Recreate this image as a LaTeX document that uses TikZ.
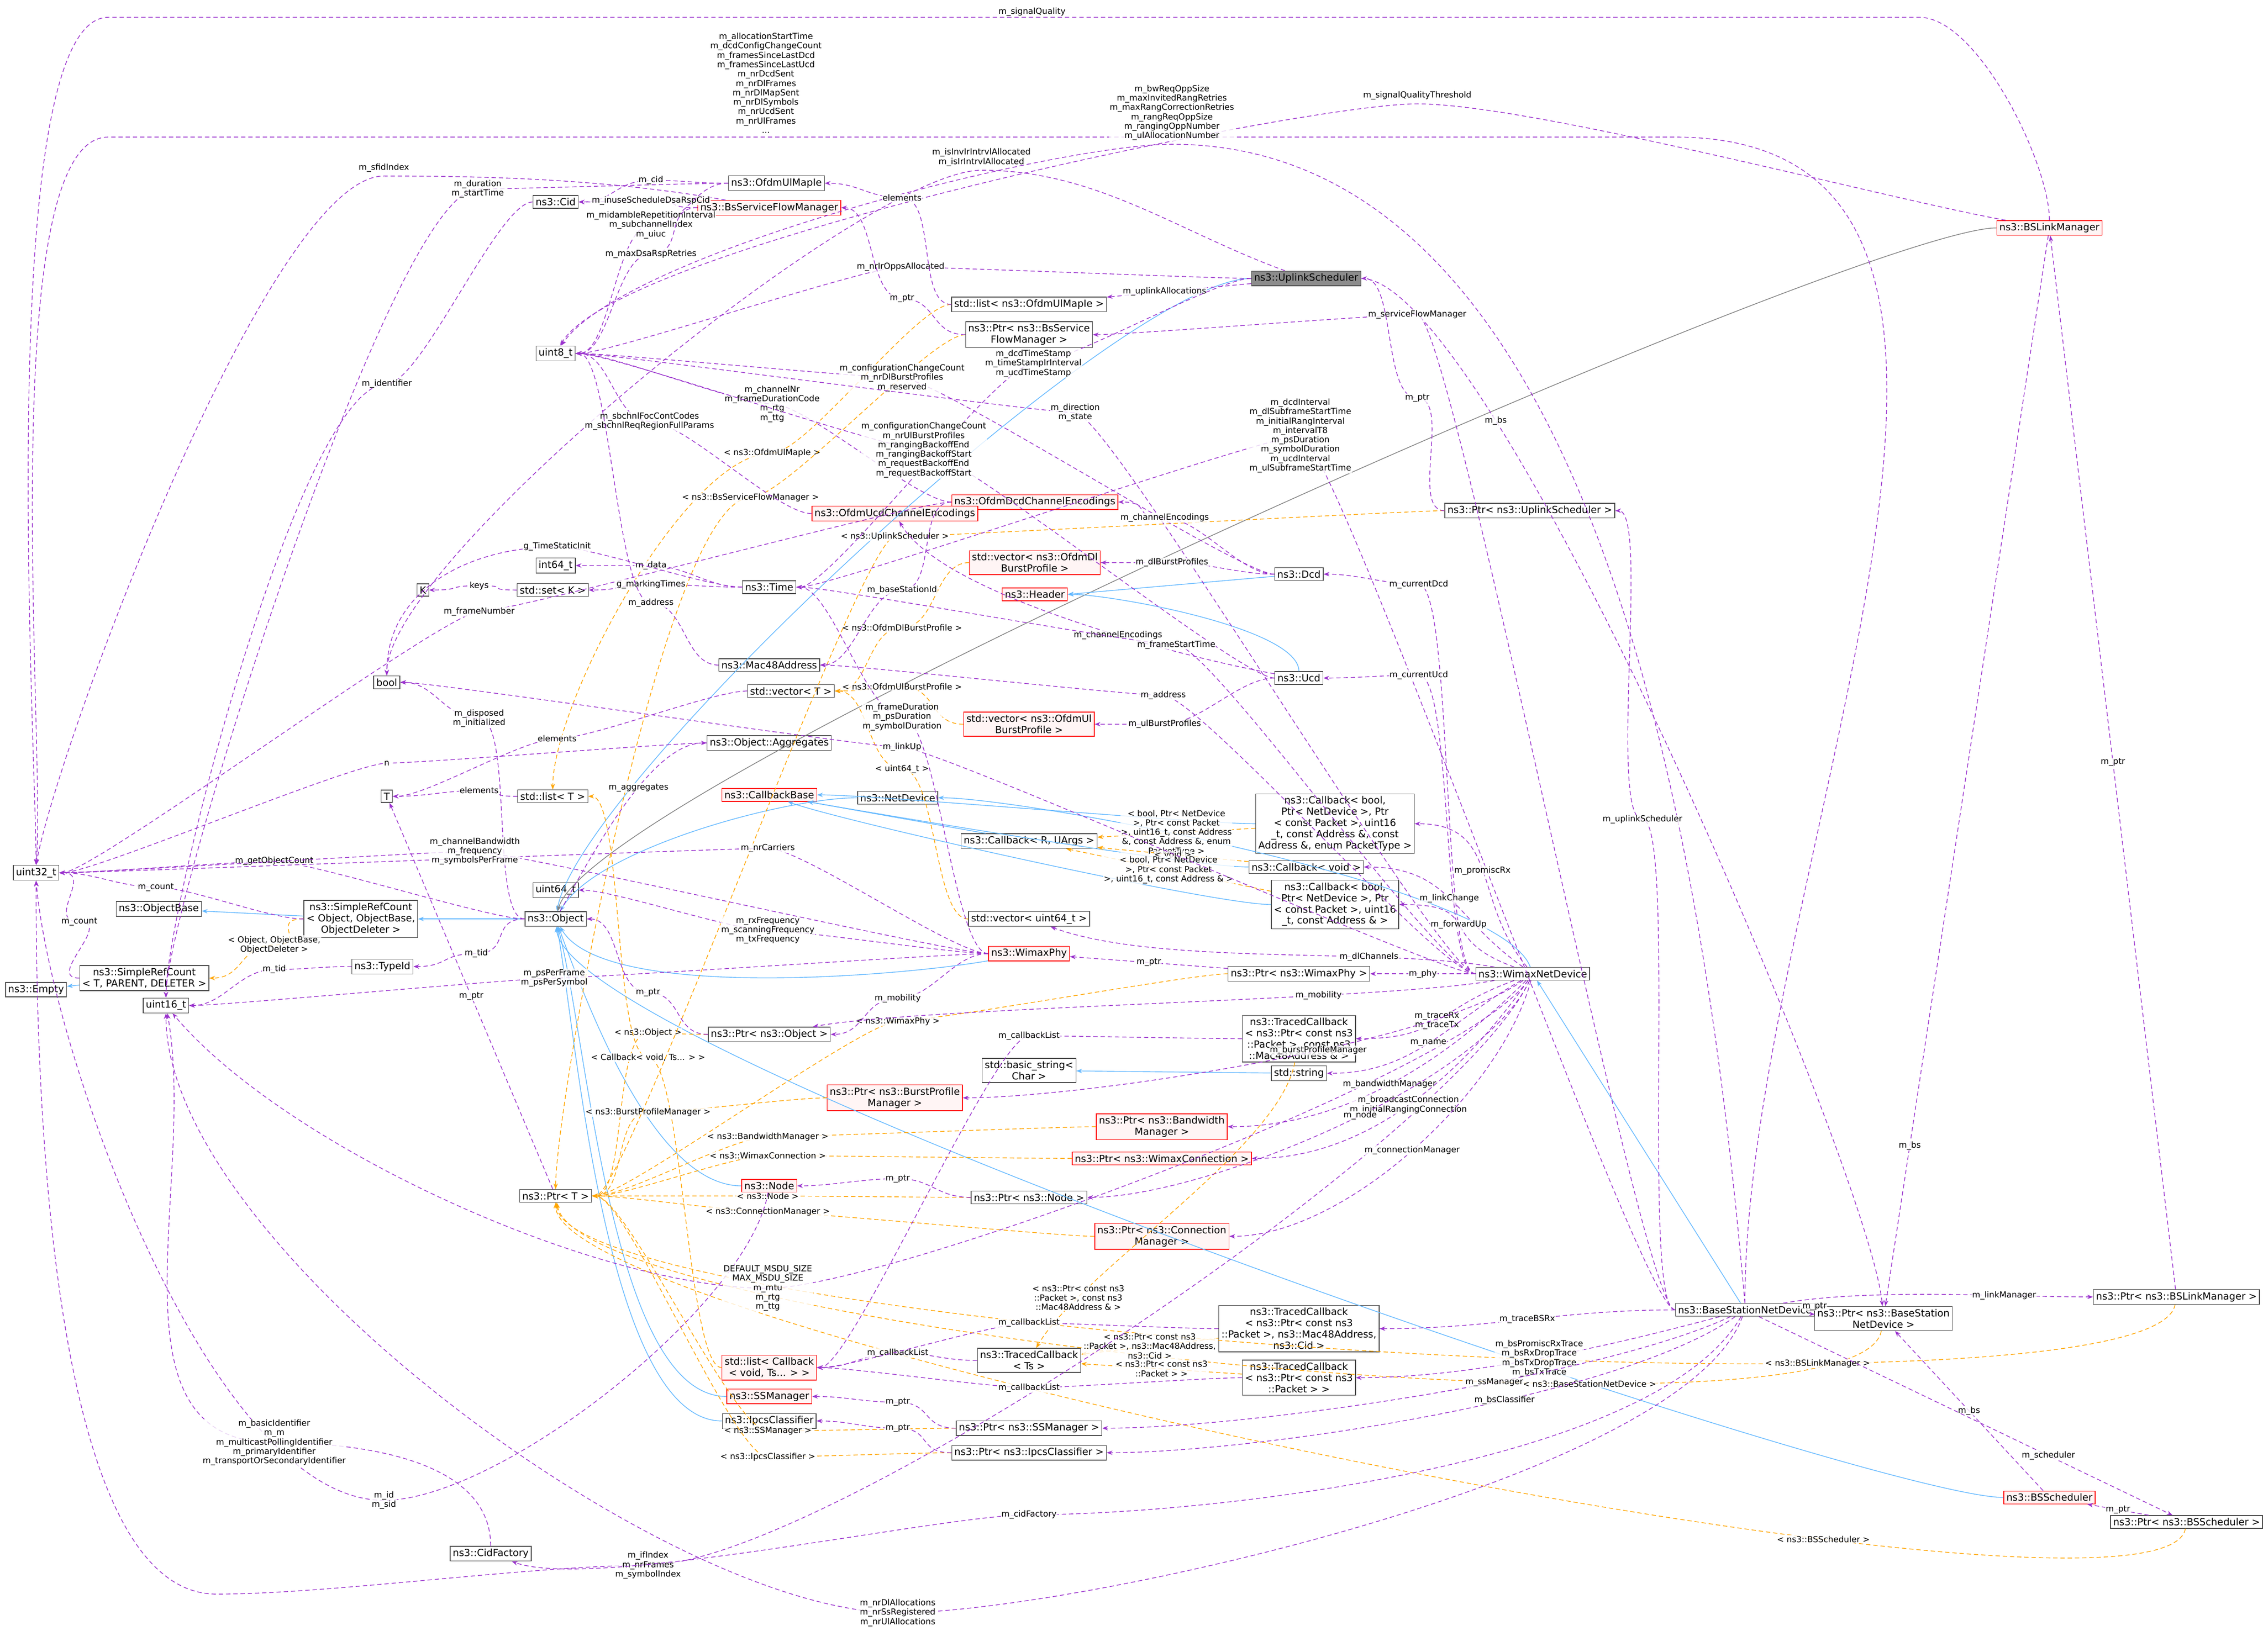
\documentclass[tikz,border=0pt]{standalone}
\usepackage{fontspec}
\setmainfont{DejaVu Sans}
\usetikzlibrary{arrows.meta}
\definecolor{memc}{RGB}{154,50,205}
\definecolor{tmplc}{RGB}{255,165,0}
\definecolor{inhc}{RGB}{99,184,255}
\tikzset{
  cls/.style={draw=black!70, fill=white, font=\fontsize{3.4}{3.9}\selectfont, inner sep=0.9pt, align=center, line width=0.25pt},
  redcls/.style={cls, draw=red, fill=red!4},
  graycls/.style={cls, fill=black!45},
  mem/.style={-{Stealth[length=2pt]}, dash pattern=on 1.5pt off 1pt, memc, line width=0.25pt},
  tmpl/.style={-{Stealth[length=2pt]}, dash pattern=on 1.5pt off 1pt, tmplc, line width=0.25pt},
  inh/.style={-{Stealth[length=2pt]}, inhc, line width=0.25pt},
  far/.style={distance=#1},
  far/.default=45pt,
  lbl/.style={font=\fontsize{2.9}{3.25}\selectfont, text=black, align=center, inner sep=0.25pt, fill=white, fill opacity=0.8, text opacity=1},
}
% connector through its label point: style, from, label point, label, to
\newcommand{\via}[5]{\draw[#1] (#2) to[out=180, in=0, far=12pt] (#3) node[lbl]{#4} to[out=180, in=0, far=12pt] (#5);}
\newcommand{\viad}[5]{\draw[#1] (#2) to[out=180, in=0, far=12pt] (#3) node[lbl]{#4} to[out=180, in=90, far=30pt] (#5);}
\begin{document}
\begin{tikzpicture}[x=0.5pt, y=-0.5pt]
  \useasboundingbox (0,0) rectangle (1568,1145);

  % classes
  \node[graycls] (uplinkSched) at (905,193) {ns3::UplinkScheduler};
  \node[redcls] (bsLinkMgr) at (1420,158) {ns3::BSLinkManager};
  \node[cls] (ofdmUlMapIe) at (538,127) {ns3::OfdmUlMapIe};
  \node[cls] (cid) at (385,140) {ns3::Cid};
  \node[redcls] (bsSfMgr) at (533,144) {ns3::BsServiceFlowManager};
  \node[cls] (uint8) at (385,245) {uint8\_t};
  \node[cls] (listUlMapIe) at (713,211) {std::list< ns3::OfdmUlMapIe >};
  \node[cls] (ptrBsSfMgr) at (713,232) {ns3::Ptr< ns3::BsService\\FlowManager >};
  \node[cls] (ptrUlSched) at (1060,354) {ns3::Ptr< ns3::UplinkScheduler >};
  \node[redcls] (dcdEnc) at (717,348) {ns3::OfdmDcdChannelEncodings};
  \node[redcls] (ucdEnc) at (620,356) {ns3::OfdmUcdChannelEncodings};
  \node[redcls] (vecDlBurst) at (717,390) {std::vector< ns3::OfdmDl\\BurstProfile >};
  \node[redcls] (header) at (717,412) {ns3::Header};
  \node[cls] (int64) at (385,392) {int64\_t};
  \node[cls] (kType) at (293,409) {K};
  \node[cls] (setK) at (383,409) {std::set< K >};
  \node[cls] (time) at (533,407) {ns3::Time};
  \node[cls] (dcd) at (900,398) {ns3::Dcd};
  \node[cls] (ucd) at (900,470) {ns3::Ucd};
  \node[cls] (mac48) at (533,461) {ns3::Mac48Address};
  \node[cls] (boolT) at (268,473) {bool};
  \node[cls] (vecT) at (548,479) {std::vector< T >};
  \node[redcls] (vecUlBurst) at (713,502) {std::vector< ns3::OfdmUl\\BurstProfile >};
  \node[cls] (aggregates) at (533,515) {ns3::Object::Aggregates};
  \node[redcls] (cbBase) at (533,551) {ns3::CallbackBase};
  \node[cls] (netDevice) at (622,553) {ns3::NetDevice};
  \node[cls] (tType) at (268,552) {T};
  \node[cls] (listT) at (383,552) {std::list< T >};
  \node[cls] (cbPromisc) at (925,571) {ns3::Callback< bool,\\Ptr< NetDevice >, Ptr\\< const Packet >, uint16\\\_t, const Address \&, const\\Address \&, enum PacketType >};
  \node[cls] (cbRU) at (713,583) {ns3::Callback< R, UArgs >};
  \node[cls] (cbVoid) at (905,601) {ns3::Callback< void >};
  \node[cls] (cbFwd) at (925,627) {ns3::Callback< bool,\\Ptr< NetDevice >, Ptr\\< const Packet >, uint16\\\_t, const Address \& >};
  \node[cls] (uint32) at (25,605) {uint32\_t};
  \node[cls] (uint64) at (385,617) {uint64\_t};
  \node[cls] (objBase) at (110,630) {ns3::ObjectBase};
  \node[cls] (srcObj) at (250,637) {ns3::SimpleRefCount\\< Object, ObjectBase,\\ObjectDeleter >};
  \node[cls] (object) at (385,637) {ns3::Object};
  \node[cls] (vecU64) at (713,637) {std::vector< uint64\_t >};
  \node[cls] (empty) at (25,686) {ns3::Empty};
  \node[cls] (srcT) at (100,678) {ns3::SimpleRefCount\\< T, PARENT, DELETER >};
  \node[cls] (typeId) at (265,670) {ns3::TypeId};
  \node[redcls] (wimaxPhy) at (713,661) {ns3::WimaxPhy};
  \node[cls] (ptrPhy) at (900,675) {ns3::Ptr< ns3::WimaxPhy >};
  \node[cls] (wimaxDev) at (1062,675) {ns3::WimaxNetDevice};
  \node[cls] (uint16) at (115,697) {uint16\_t};
  \node[cls] (ptrObj) at (533,717) {ns3::Ptr< ns3::Object >};
  \node[cls] (tcbMac) at (900,720) {ns3::TracedCallback\\< ns3::Ptr< const ns3\\::Packet >, const ns3\\::Mac48Address \& >};
  \node[cls] (basicStr) at (713,742) {std::basic\_string<\\Char >};
  \node[cls] (stdStr) at (900,744) {std::string};
  \node[redcls] (ptrBurst) at (620,761) {ns3::Ptr< ns3::BurstProfile\\Manager >};
  \node[redcls] (ptrBw) at (805,781) {ns3::Ptr< ns3::Bandwidth\\Manager >};
  \node[redcls] (ptrConn) at (805,803) {ns3::Ptr< ns3::WimaxConnection >};
  \node[redcls] (node) at (533,822) {ns3::Node};
  \node[cls] (ptrT) at (385,829) {ns3::Ptr< T >};
  \node[cls] (ptrNode) at (713,830) {ns3::Ptr< ns3::Node >};
  \node[redcls] (ptrConnMgr) at (805,857) {ns3::Ptr< ns3::Connection\\Manager >};
  \node[cls] (tcbCid) at (900,921) {ns3::TracedCallback\\< ns3::Ptr< const ns3\\::Packet >, ns3::Mac48Address,\\ns3::Cid >};
  \node[cls] (bsDev) at (1209,908) {ns3::BaseStationNetDevice};
  \node[cls] (ptrBsDev) at (1305,914) {ns3::Ptr< ns3::BaseStation\\NetDevice >};
  \node[cls] (ptrLinkMgr) at (1508,899) {ns3::Ptr< ns3::BSLinkManager >};
  \node[redcls] (listCb) at (533,948) {std::list< Callback\\< void, Ts... > >};
  \node[cls] (tcbTs) at (713,943) {ns3::TracedCallback\\< Ts >};
  \node[cls] (tcbPkt) at (900,955) {ns3::TracedCallback\\< ns3::Ptr< const ns3\\::Packet > >};
  \node[redcls] (ssMgr) at (533,968) {ns3::SSManager};
  \node[cls] (ipcs) at (533,985) {ns3::IpcsClassifier};
  \node[cls] (ptrSs) at (713,990) {ns3::Ptr< ns3::SSManager >};
  \node[cls] (ptrIpcs) at (713,1007) {ns3::Ptr< ns3::IpcsClassifier >};
  \node[redcls] (bsSched) at (1420,1038) {ns3::BSScheduler};
  \node[cls] (ptrBsSched) at (1515,1055) {ns3::Ptr< ns3::BSScheduler >};
  \node[cls] (cidFactory) at (340,1077) {ns3::CidFactory};

  % bend points of the long connectors
  \coordinate (sq1) at (1330,12);
  \coordinate (sq2) at (75,12);
  \coordinate (ast1) at (1160,95);
  \coordinate (ast2) at (75,95);
  \coordinate (irv) at (680,118);
  \coordinate (sqt) at (982,72);
  \coordinate (bwr) at (812,100);
  \coordinate (sfi) at (266,122);
  \coordinate (ifx1) at (449,1085);
  \coordinate (ifx2) at (150,1105);
  \coordinate (msid) at (266,1040);
  \coordinate (msdu) at (532,893);
  \coordinate (nrdl) at (622,1118);
  \coordinate (cidf) at (713,1050);

  % inheritance
  \path (srcObj) edge[inh] (objBase);
  \path (object) edge[inh] (srcObj);
  \path (srcT) edge[inh] (empty);
  \path (uplinkSched.west) edge[inh, out=180, in=80, far] (object);
  \path (bsLinkMgr.west) edge[inh, black!50, out=180, in=75, far] (object);
  \path (netDevice) edge[inh, out=180, in=60, far=25pt] (object);
  \path (wimaxPhy) edge[inh, out=190, in=-60, far=30pt] (object);
  \path (node) edge[inh, out=180, in=-70, far=30pt] (object);
  \path (ssMgr) edge[inh, out=180, in=-75, far=40pt] (object);
  \path (ipcs) edge[inh, out=180, in=-80, far=40pt] (object);
  \path (bsSched.west) edge[inh, out=180, in=-85, far] (object);
  \path (wimaxDev) edge[inh, out=110, in=0, far=30pt] (netDevice);
  \path (bsDev) edge[inh] (wimaxDev);
  \path (dcd) edge[inh] (header.east);
  \path (ucd) edge[inh, out=90, in=0, far=15pt] (header.east);
  \path (stdStr) edge[inh] (basicStr);
  \path (cbRU) edge[inh] (cbBase);
  \path (cbPromisc) edge[inh, out=180, in=0, far=20pt] (cbBase);
  \path (cbVoid) edge[inh, out=180, in=-10, far=20pt] (cbBase);
  \path (cbFwd) edge[inh, out=180, in=-20, far=20pt] (cbBase);

  % template instances
  \via{tmpl}{srcObj}{190,655}{< Object, ObjectBase,\\ObjectDeleter >}{srcT}
  \viad{tmpl}{listUlMapIe}{535,314}{< ns3::OfdmUlMapIe >}{listT}
  \viad{tmpl}{ptrBsSfMgr}{520,345}{< ns3::BsServiceFlowManager >}{ptrT}
  \via{tmpl}{vecDlBurst}{625,435}{< ns3::OfdmDlBurstProfile >}{vecT}
  \via{tmpl}{vecUlBurst}{625,476}{< ns3::OfdmUlBurstProfile >}{vecT}
  \via{tmpl}{vecU64}{625,533}{< uint64\_t >}{vecT}
  \path (cbPromisc) edge[tmpl] node[lbl]{< bool, Ptr< NetDevice\\>, Ptr< const Packet\\>, uint16\_t, const Address\\\&, const Address \&, enum\\PacketType >} (cbRU);
  \path (cbVoid) edge[tmpl] node[lbl]{< void >} (cbRU);
  \path (cbFwd) edge[tmpl] node[lbl]{< bool, Ptr< NetDevice\\>, Ptr< const Packet\\>, uint16\_t, const Address \& >} (cbRU);
  \via{tmpl}{ptrObj}{449,716}{< ns3::Object >}{ptrT}
  \via{tmpl}{ptrPhy}{622,708}{< ns3::WimaxPhy >}{ptrT}
  \via{tmpl}{listCb}{449,733}{< Callback< void, Ts... > >}{listT}
  \via{tmpl}{ptrBurst}{449,771}{< ns3::BurstProfileManager >}{ptrT}
  \via{tmpl}{ptrBw}{532,788}{< ns3::BandwidthManager >}{ptrT}
  \via{tmpl}{ptrConn}{532,801}{< ns3::WimaxConnection >}{ptrT}
  \via{tmpl}{ptrNode}{532,829}{< ns3::Node >}{ptrT}
  \via{tmpl}{ptrConnMgr}{532,840}{< ns3::ConnectionManager >}{ptrT}
  \via{tmpl}{ptrSs}{532,992}{< ns3::SSManager >}{ptrT}
  \via{tmpl}{ptrIpcs}{532,1010}{< ns3::IpcsClassifier >}{ptrT}
  \path (ptrBsDev) edge[tmpl, out=-100, in=-80, far] node[lbl, pos=0.3]{< ns3::BaseStationNetDevice >} (ptrT);
  \path (ptrLinkMgr) edge[tmpl, out=-100, in=-85, far] node[lbl, pos=0.3]{< ns3::BSLinkManager >} (ptrT);
  \path (ptrBsSched) edge[tmpl, out=-100, in=-90, far] node[lbl, pos=0.3]{< ns3::BSScheduler >} (ptrT);
  \via{tmpl}{ptrUlSched}{620,372}{< ns3::UplinkScheduler >}{ptrT}
  \path (tcbMac) edge[tmpl, out=-100, in=60, far=30pt] node[lbl, pos=0.8]{< ns3::Ptr< const ns3\\::Packet >, const ns3\\::Mac48Address \& >} (tcbTs);
  \path (tcbCid) edge[tmpl] node[lbl]{< ns3::Ptr< const ns3\\::Packet >, ns3::Mac48Address,\\ns3::Cid >} (tcbTs);
  \path (tcbPkt) edge[tmpl] node[lbl]{< ns3::Ptr< const ns3\\::Packet > >} (tcbTs);

  % members along the top
  \draw[mem] (bsLinkMgr.north) to[out=90, in=0, far=20pt] (sq1) -- node[lbl, above, pos=0.49]{m\_signalQuality} (sq2) to[out=180, in=90, far=40pt] (uint32.north);
  \draw[mem] (bsDev.north) to[out=90, in=0, far=150pt] (ast1) -- node[lbl, above=1pt, pos=0.58]{m\_allocationStartTime\\m\_dcdConfigChangeCount\\m\_framesSinceLastDcd\\m\_framesSinceLastUcd\\m\_nrDcdSent\\m\_nrDlFrames\\m\_nrDlMapSent\\m\_nrDlSymbols\\m\_nrUcdSent\\m\_nrUlFrames\\...} (ast2) to[out=180, in=85, far=40pt] (uint32.north);
  \draw[mem] (uplinkSched) to[out=160, in=0, far=40pt] (irv) node[lbl, above=1pt]{m\_isInvIrIntrvlAllocated\\m\_isIrIntrvlAllocated} to[out=180, in=90, far=40pt] (boolT.north);
  \draw[mem] (bsLinkMgr) to[out=170, in=0, far=40pt] (sqt) node[lbl, above=1pt]{m\_signalQualityThreshold} to[out=180, in=60, far=40pt] (uint8);
  \draw[mem] (bsDev.north) to[out=95, in=0, far=150pt] (bwr) node[lbl, above=1pt]{m\_bwReqOppSize\\m\_maxInvitedRangRetries\\m\_maxRangCorrectionRetries\\m\_rangReqOppSize\\m\_rangingOppNumber\\m\_ulAllocationNumber} to[out=180, in=55, far=40pt] (uint8);
  \draw[mem] (bsSfMgr) to[out=170, in=0, far=40pt] (sfi) node[lbl, above=1pt]{m\_sfidIndex} to[out=180, in=80, far=40pt] (uint32.north);

  % members along the bottom
  \draw[mem] (wimaxDev) to[out=-115, in=0, far=60pt] (ifx1) node[lbl]{m\_ifIndex\\m\_nrFrames\\m\_symbolIndex} to[out=180, in=0, far=40pt] (ifx2) to[out=180, in=-90, far=60pt] (uint32.south);
  \draw[mem] (node) to[out=-100, in=0, far=40pt] (msid) node[lbl]{m\_id\\m\_sid} to[out=180, in=-85, far=60pt] (uint32.south);
  \draw[mem] (wimaxDev) to[out=-125, in=0, far=40pt] (msdu) node[lbl]{DEFAULT\_MSDU\_SIZE\\MAX\_MSDU\_SIZE\\m\_mtu\\m\_rtg\\m\_ttg} to[out=180, in=-50, far=60pt] (uint16);
  \draw[mem] (bsDev) to[out=-110, in=0, far=60pt] (nrdl) node[lbl]{m\_nrDlAllocations\\m\_nrSsRegistered\\m\_nrUlAllocations} to[out=180, in=-90, far=80pt] (uint16.south);
  \draw[mem] (bsDev) to[out=-120, in=0, far=60pt] (cidf) node[lbl]{m\_cidFactory} to[out=180, in=-20, far=30pt] (cidFactory);

  % other members
  \via{mem}{ofdmUlMapIe}{451,125}{m\_cid}{cid}
  \via{mem}{bsSfMgr}{451,139}{m\_inuseScheduleDsaRspCid}{cid}
  \via{mem}{ofdmUlMapIe}{451,156}{m\_midambleRepetitionInterval\\m\_subchannelIndex\\m\_uiuc}{uint8}
  \via{mem}{bsSfMgr}{451,176}{m\_maxDsaRspRetries}{uint8}
  \viad{mem}{ofdmUlMapIe}{331,131}{m\_duration\\m\_startTime}{uint16}
  \viad{mem}{cid}{268,266}{m\_identifier}{uint16}
  \via{mem}{uplinkSched}{624,185}{m\_nrIrOppsAllocated}{uint8}
  \path (uplinkSched) edge[mem] node[lbl, pos=0.6]{m\_uplinkAllocations} (listUlMapIe);
  \via{mem}{uplinkSched}{716,252}{m\_dcdTimeStamp\\m\_timeStampIrInterval\\m\_ucdTimeStamp}{time}
  \path (uplinkSched) edge[mem, out=0, in=95, far] node[lbl, pos=0.25]{m\_bs} (ptrBsDev);
  \via{mem}{bsDev}{982,218}{m\_serviceFlowManager}{ptrBsSfMgr}
  \via{mem}{listUlMapIe}{625,137}{elements}{ofdmUlMapIe}
  \via{mem}{ptrBsSfMgr}{625,207}{m\_ptr}{bsSfMgr}
  \via{mem}{dcdEnc}{535,280}{m\_channelNr\\m\_frameDurationCode\\m\_rtg\\m\_ttg}{uint8}
  \via{mem}{dcd}{625,262}{m\_configurationChangeCount\\m\_nrDlBurstProfiles\\m\_reserved}{uint8}
  \via{mem}{ucdEnc}{450,292}{m\_sbchnlFocContCodes\\m\_sbchnlReqRegionFullParams}{uint8}
  \via{mem}{wimaxDev}{745,286}{m\_direction\\m\_state}{uint8}
  \via{mem}{ucd}{640,312}{m\_configurationChangeCount\\m\_nrUlBurstProfiles\\m\_rangingBackoffEnd\\m\_rangingBackoffStart\\m\_requestBackoffEnd\\m\_requestBackoffStart}{uint8}
  \via{mem}{dcdEnc}{625,409}{m\_baseStationId}{mac48}
  \via{mem}{dcdEnc}{332,424}{m\_frameNumber}{uint32}
  \via{mem}{dcd}{807,359}{m\_channelEncodings}{dcdEnc}
  \path (ucd) edge[mem, out=170, in=-60, far=30pt] node[lbl, pos=0.4]{m\_channelEncodings} (ucdEnc);
  \via{mem}{dcd}{812,390}{m\_dlBurstProfiles}{vecDlBurst}
  \via{mem}{ucd}{807,502}{m\_ulBurstProfiles}{vecUlBurst}
  \via{mem}{bsDev}{901,302}{m\_dcdInterval\\m\_dlSubframeStartTime\\m\_initialRangInterval\\m\_intervalT8\\m\_psDuration\\m\_symbolDuration\\m\_ucdInterval\\m\_ulSubframeStartTime}{time}
  \via{mem}{wimaxDev}{815,447}{m\_frameStartTime}{time}
  \via{mem}{ptrUlSched}{982,276}{m\_ptr}{uplinkSched}
  \via{mem}{bsDev}{1138,568}{m\_uplinkScheduler}{ptrUlSched}
  \via{mem}{setK}{332,406}{keys}{kType}
  \via{mem}{time}{451,392}{m\_data}{int64}
  \via{mem}{time}{451,405}{g\_markingTimes}{setK}
  \viad{mem}{time}{386,379}{g\_TimeStaticInit}{boolT}
  \via{mem}{mac48}{451,418}{m\_address}{uint8}
  \via{mem}{wimaxDev}{806,482}{m\_address}{mac48}
  \via{mem}{wimaxDev}{983,405}{m\_currentDcd}{dcd}
  \via{mem}{wimaxDev}{983,468}{m\_currentUcd}{ucd}
  \via{mem}{wimaxDev}{625,518}{m\_linkUp}{boolT}
  \via{mem}{wimaxPhy}{625,497}{m\_frameDuration\\m\_psDuration\\m\_symbolDuration}{time}
  \via{mem}{vecT}{386,512}{elements}{tType}
  \via{mem}{listT}{332,548}{elements}{tType}
  \via{mem}{aggregates}{268,529}{n}{uint32}
  \path (object) edge[mem, out=60, in=180, far=20pt] node[lbl, pos=0.6]{m\_aggregates} (aggregates);
  \via{mem}{object}{332,498}{m\_disposed\\m\_initialized}{boolT}
  \via{mem}{object}{190,597}{m\_getObjectCount}{uint32}
  \via{mem}{object}{330,661}{m\_tid}{typeId}
  \via{mem}{typeId}{190,672}{m\_tid}{uint16}
  \via{mem}{srcObj}{108,615}{m\_count}{uint32}
  \via{mem}{srcT}{55,639}{m\_count}{uint32}
  \via{mem}{wimaxPhy}{532,645}{m\_rxFrequency\\m\_scanningFrequency\\m\_txFrequency}{uint64}
  \via{mem}{wimaxPhy}{532,588}{m\_nrCarriers}{uint32}
  \via{mem}{wimaxPhy}{329,590}{m\_channelBandwidth\\m\_frequency\\m\_symbolsPerFrame}{uint32}
  \via{mem}{wimaxPhy}{384,678}{m\_psPerFrame\\m\_psPerSymbol}{uint16}
  \via{mem}{wimaxPhy}{622,692}{m\_mobility}{ptrObj}
  \via{mem}{ptrObj}{449,688}{m\_ptr}{object}
  \path (ptrPhy) edge[mem] node[lbl]{m\_ptr} (wimaxPhy);

  % members of ns3::WimaxNetDevice, fanned out
  \path (wimaxDev) edge[mem, out=130, in=0, far=30pt] node[lbl]{m\_promiscRx} (cbPromisc);
  \path (wimaxDev) edge[mem, out=145, in=0, far=30pt] node[lbl]{m\_linkChange} (cbVoid);
  \path (wimaxDev) edge[mem, out=160, in=0, far=30pt] node[lbl]{m\_forwardUp} (cbFwd);
  \path (wimaxDev) edge[mem, out=170, in=-20, far=40pt] node[lbl, pos=0.3]{m\_dlChannels} (vecU64);
  \path (wimaxDev) edge[mem] node[lbl]{m\_phy} (ptrPhy);
  \path (wimaxDev) edge[mem, out=190, in=10, far=40pt] node[lbl, pos=0.3]{m\_mobility} (ptrObj);
  \path (wimaxDev) edge[mem, out=200, in=0, far=30pt] node[lbl]{m\_traceRx\\m\_traceTx} (tcbMac);
  \path (wimaxDev) edge[mem, out=210, in=0, far=30pt] node[lbl]{m\_name} (stdStr);
  \path (wimaxDev) edge[mem, out=215, in=0, far=40pt] node[lbl, pos=0.4]{m\_burstProfileManager} (ptrBurst);
  \path (wimaxDev) edge[mem, out=225, in=0, far=40pt] node[lbl]{m\_bandwidthManager} (ptrBw);
  \path (wimaxDev) edge[mem, out=235, in=0, far=40pt] node[lbl]{m\_broadcastConnection\\m\_initialRangingConnection} (ptrConn);
  \path (wimaxDev) edge[mem, out=245, in=0, far=40pt] node[lbl, pos=0.45]{m\_node} (ptrNode);
  \path (wimaxDev) edge[mem, out=255, in=0, far=40pt] node[lbl]{m\_connectionManager} (ptrConnMgr);

  \via{mem}{tcbMac}{713,718}{m\_callbackList}{listCb}
  \via{mem}{tcbTs}{622,938}{m\_callbackList}{listCb}
  \via{mem}{tcbCid}{713,917}{m\_callbackList}{listCb}
  \via{mem}{tcbPkt}{713,962}{m\_callbackList}{listCb}
  \via{mem}{ptrNode}{622,817}{m\_ptr}{node}
  \path (ptrT) edge[mem] node[lbl]{m\_ptr} (tType);

  % members of ns3::BaseStationNetDevice
  \path (bsDev) edge[mem, out=180, in=0, far=40pt] node[lbl]{m\_traceBSRx} (tcbCid);
  \path (bsDev) edge[mem, out=195, in=0, far=40pt] node[lbl]{m\_bsPromiscRxTrace\\m\_bsRxDropTrace\\m\_bsTxDropTrace\\m\_bsTxTrace} (tcbPkt);
  \path (bsDev) edge[mem, out=205, in=0, far=50pt] node[lbl, pos=0.4]{m\_ssManager} (ptrSs);
  \path (bsDev) edge[mem, out=215, in=0, far=50pt] node[lbl, pos=0.4]{m\_bsClassifier} (ptrIpcs);
  \via{mem}{ptrSs}{622,972}{m\_ptr}{ssMgr}
  \via{mem}{ptrIpcs}{622,990}{m\_ptr}{ipcs}
  \draw[mem] (cidFactory) to[out=90, in=0, far=30pt] (190,1000) node[lbl]{m\_basicIdentifier\\m\_m\\m\_multicastPollingIdentifier\\m\_primaryIdentifier\\m\_transportOrSecondaryIdentifier} to[out=180, in=-80, far=60pt] (uint16);
  \path (bsDev) edge[mem, out=10, in=180, far=30pt] node[lbl, pos=0.7]{m\_linkManager} (ptrLinkMgr);
  \path (ptrLinkMgr) edge[mem] node[lbl]{m\_ptr} (bsLinkMgr);
  \path (ptrBsDev) edge[mem] node[lbl, above=1pt]{m\_ptr} (bsDev);
  \path (bsLinkMgr) edge[mem] node[lbl, pos=0.85]{m\_bs} (ptrBsDev);
  \path (bsSched) edge[mem] node[lbl]{m\_bs} (ptrBsDev);
  \path (bsDev) edge[mem] node[lbl, pos=0.7]{m\_scheduler} (ptrBsSched);
  \path (ptrBsSched) edge[mem] node[lbl]{m\_ptr} (bsSched);
\end{tikzpicture}
\end{document}
